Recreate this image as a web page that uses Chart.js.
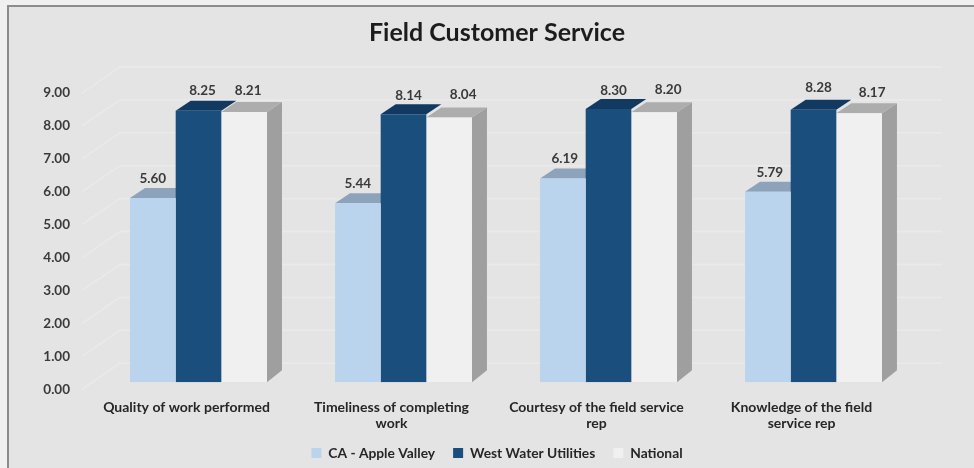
<!DOCTYPE html>
<html><head><meta charset="utf-8">
<script src="https://cdn.jsdelivr.net/npm/chart.js@4"></script>
<style>html,body{margin:0;padding:0;background:#efefef}canvas{display:block}#w{width:974px;height:468px}</style>
</head><body><div id="w"><canvas id="c" width="974" height="468"></canvas></div>
<script>
const categories = [
  "Quality of work performed",
  ["Timeliness of completing", "work"],
  ["Courtesy of the field service", "rep"],
  ["Knowledge of the field", "service rep"]
];
const appleValley = [5.60, 5.44, 6.19, 5.79];
const westWater = [8.25, 8.14, 8.30, 8.28];
const national = [8.21, 8.04, 8.20, 8.17];
const yTicks = [0,1,2,3,4,5,6,7,8,9];
const seriesNames = ["CA - Apple Valley", "West Water Utilities", "National"];

const FONT = "Lato, Carlito, sans-serif";
const TEXT = "#3a3a3a";
const DX = 15, DY = 10;                 // bar extrusion
const WALL_DX = 24, WALL_DY = 19;       // back wall offset
const labelNudge = [[0,4,4],[0,5,14],[2,5,14],[2,5,13]];
const labelLift = [[19,20,21],[20,19,23],[20,18,23],[19,22,21]];
const topColors = ["#8da3bb", "#123a61", "#adadad"];
const sideColors = ["#8fa5bb", "#123a61", "#9f9f9f"];

function poly(ctx, pts, fill){
  ctx.beginPath();
  pts.forEach((p,i)=> i ? ctx.lineTo(p[0],p[1]) : ctx.moveTo(p[0],p[1]));
  ctx.closePath(); ctx.fillStyle = fill; ctx.fill();
}

const scene = {
  id: "scene",
  beforeDraw(chart){
    const {ctx, width, height} = chart;
    ctx.save();
    ctx.fillStyle = "#f0f0f0"; ctx.fillRect(0,0,width,height);
    ctx.fillStyle = "#e4e4e4"; ctx.fillRect(8,7,width-8,height-7);
    ctx.fillStyle = "#8c8c8c";
    ctx.fillRect(7,5,width-7,2); ctx.fillRect(7,5,2,height-5);
    ctx.restore();
  },
  beforeDatasetsDraw(chart){
    const {ctx, scales:{y}, chartArea:a} = chart;
    ctx.save();
    ctx.strokeStyle = "#eaeaea"; ctx.lineWidth = 1.5;
    y.ticks.forEach(t=>{
      const py = y.getPixelForValue(t.value);
      ctx.beginPath();
      ctx.moveTo(82, py+7); ctx.lineTo(a.left+WALL_DX, py-WALL_DY); ctx.lineTo(942, py-WALL_DY);
      ctx.stroke();
    });
    const draw = (di, side) => chart.getDatasetMeta(di).data.forEach(b=>{
      const w = b.width/2, l = b.x-w, r = b.x+w, t = b.y, base = b.base;
      if (side) poly(ctx, [[r,t],[r+DX,t-DY],[r+DX,base-DY-2],[r,base]], sideColors[di]);
      poly(ctx, [[l,t],[l+DX,t-DY],[r+DX,t-DY],[r,t]], topColors[di]);
    });
    draw(0,false); draw(2,true); draw(1,false);
    ctx.restore();
  },
  afterDatasetsDraw(chart){
    const {ctx} = chart;
    ctx.save();
    ctx.font = "bold 13.5px "+FONT; ctx.fillStyle = TEXT;
    ctx.textAlign = "center"; ctx.textBaseline = "middle";
    chart.data.datasets.forEach((ds,di)=>{
      chart.getDatasetMeta(di).data.forEach((b,i)=>{
        ctx.fillText(ds.data[i].toFixed(2), b.x+labelNudge[i][di], b.y-labelLift[i][di]);
      });
    });
    ctx.restore();
  }
};

new Chart(document.getElementById("c"), {
  type: "bar",
  data: {
    labels: categories,
    datasets: [
      {label: seriesNames[0], data: appleValley, backgroundColor: "#b9d4ec"},
      {label: seriesNames[1], data: westWater, backgroundColor: "#1a4e7d"},
      {label: seriesNames[2], data: national, backgroundColor: "#f0f0f0"}
    ]
  },
  plugins: [scene],
  options: {
    responsive: false, animation: false,
    categoryPercentage: 0.668, barPercentage: 1,
    layout: {padding: {left: 20, right: 0, top: 0, bottom: -2}},
    scales: {
      x: {
        grid: {display:false, drawTicks:false}, border:{display:false},
        ticks: {color:"#262626", font:{family:FONT, size:14, weight:"bold", lineHeight:1.15}, maxRotation:0, autoSkip:false, labelOffset:-12, padding:17},
        afterFit(s){ s.height = 46; s._computeLabelArea = () => undefined; }
      },
      y: {
        min: 0, max: 9,
        afterBuildTicks(s){ s.ticks = yTicks.map(v=>({value:v})); },
        grid: {display:false, drawTicks:false}, border:{display:false},
        ticks: {color:TEXT, font:{family:FONT, size:13.5, weight:"bold"}, padding:26, labelOffset:7, callback:v=>Number(v).toFixed(2)},
        afterFit(s){ s.width = 76; }
      },
      rightGap: {
        position:"right", min:0, max:9,
        grid: {display:false, drawTicks:false}, border:{display:false},
        ticks: {display:false},
        afterFit(s){ s.width = 58; }
      }
    },
    plugins: {
      tooltip: {enabled:false},
      title: {display:true, text:"Field Customer Service", color:"#1c1c1c", font:{family:FONT, size:25, weight:"bold", lineHeight:1.2}, padding:{top:18, bottom:38}},
      legend: {
        position:"bottom",
        labels: {color:"#262626", font:{family:FONT, size:13.8, weight:"bold"}, boxWidth:10, boxHeight:10, padding:18}
      }
    }
  }
});
</script></body></html>
